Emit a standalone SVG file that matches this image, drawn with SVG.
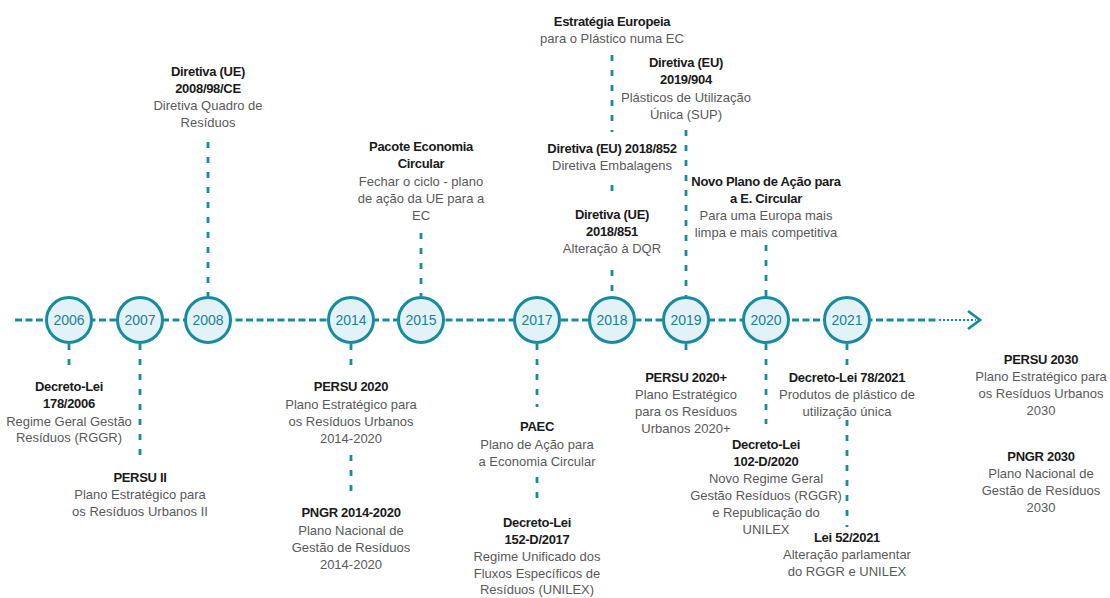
<svg xmlns="http://www.w3.org/2000/svg" width="1110" height="598" viewBox="0 0 1110 598">
<defs>
<style>
.bg{fill:#ffffff}
.yr circle{fill:#e3f2f7;stroke:#168c9e;stroke-width:3}
.yr text{font-family:"Liberation Sans",Arial,sans-serif;font-size:14px;fill:#237f8f;text-anchor:middle}
.tl{fill:none;stroke:#168c9e;stroke-width:2.8;stroke-dasharray:7 3.5}
.dot{fill:none;stroke:#168c9e;stroke-width:2.2;stroke-dasharray:2 2}
.arr{fill:none;stroke:#168c9e;stroke-width:2.8;stroke-linejoin:miter}
.v{fill:none;stroke:#168c9e;stroke-width:2.8;stroke-dasharray:6 9}
.lbl text{font-family:"Liberation Sans",Arial,sans-serif;font-size:13px;text-anchor:middle;fill:#595959}
.lbl .t{font-weight:bold;fill:#1a1a1a;letter-spacing:-0.3px}
</style>
</defs>
<rect class="bg" x="0" y="0" width="1110" height="598"/>

<g id="connectors">
<path class="tl" d="M15 320 H938"/>
<path class="dot" d="M939 320 H976"/>
<path class="arr" d="M968 311 L980 320 L968 329"/>
<path class="v" d="M69 344 V372"/>
<path class="v" d="M140 344 V460"/>
<path class="v" d="M208 142 V296"/>
<path class="v" d="M351 344 V373"/>
<path class="v" d="M351 455 V494"/>
<path class="v" d="M421 233 V296"/>
<path class="v" d="M537 344 V407"/>
<path class="v" d="M537 477 V507"/>
<path class="v" d="M612 55 V132"/>
<path class="v" d="M612 185 V199"/>
<path class="v" d="M612 270 V296"/>
<path class="v" d="M686 130 V296"/>
<path class="v" d="M686 344 V356"/>
<path class="v" d="M766 245 V296"/>
<path class="v" d="M766 344 V424"/>
<path class="v" d="M847 344 V367"/>
<path class="v" d="M847 420 V527"/>
</g>

<g id="y2006" class="yr"><circle cx="69" cy="320" r="22.5"/><text x="69" y="325">2006</text></g>
<g id="y2007" class="yr"><circle cx="140" cy="320" r="22.5"/><text x="140" y="325">2007</text></g>
<g id="y2008" class="yr"><circle cx="208" cy="320" r="22.5"/><text x="208" y="325">2008</text></g>
<g id="y2014" class="yr"><circle cx="351" cy="320" r="22.5"/><text x="351" y="325">2014</text></g>
<g id="y2015" class="yr"><circle cx="421" cy="320" r="22.5"/><text x="421" y="325">2015</text></g>
<g id="y2017" class="yr"><circle cx="537" cy="320" r="22.5"/><text x="537" y="325">2017</text></g>
<g id="y2018" class="yr"><circle cx="612" cy="320" r="22.5"/><text x="612" y="325">2018</text></g>
<g id="y2019" class="yr"><circle cx="686" cy="320" r="22.5"/><text x="686" y="325">2019</text></g>
<g id="y2020" class="yr"><circle cx="766" cy="320" r="22.5"/><text x="766" y="325">2020</text></g>
<g id="y2021" class="yr"><circle cx="847" cy="320" r="22.5"/><text x="847" y="325">2021</text></g>

<g id="n-diretiva-2008" class="lbl">
<text class="t" x="208" y="76">Diretiva (UE)</text>
<text class="t" x="208" y="93">2008/98/CE</text>
<text x="208" y="110">Diretiva Quadro de</text>
<text x="208" y="127">Resíduos</text>
</g>
<g id="n-pacote" class="lbl">
<text class="t" x="421" y="151">Pacote Economia</text>
<text class="t" x="421" y="168">Circular</text>
<text x="421" y="186">Fechar o ciclo - plano</text>
<text x="421" y="203">de ação da UE para a</text>
<text x="421" y="220">EC</text>
</g>
<g id="n-estrategia" class="lbl">
<text class="t" x="612" y="26">Estratégia Europeia</text>
<text x="612" y="43">para o Plástico numa EC</text>
</g>
<g id="n-diretiva-2019" class="lbl">
<text class="t" x="686" y="67">Diretiva (EU)</text>
<text class="t" x="686" y="84">2019/904</text>
<text x="686" y="102">Plásticos de Utilização</text>
<text x="686" y="119">Única (SUP)</text>
</g>
<g id="n-diretiva-852" class="lbl">
<text class="t" x="612" y="153">Diretiva (EU) 2018/852</text>
<text x="612" y="170">Diretiva Embalagens</text>
</g>
<g id="n-diretiva-851" class="lbl">
<text class="t" x="612" y="219">Diretiva (UE)</text>
<text class="t" x="612" y="236">2018/851</text>
<text x="612" y="253">Alteração à DQR</text>
</g>
<g id="n-novo-plano" class="lbl">
<text class="t" x="766" y="186">Novo Plano de Ação para</text>
<text class="t" x="766" y="203">a E. Circular</text>
<text x="766" y="220">Para uma Europa mais</text>
<text x="766" y="237">limpa e mais competitiva</text>
</g>

<g id="n-dl-178" class="lbl">
<text class="t" x="69" y="391">Decreto-Lei</text>
<text class="t" x="69" y="408">178/2006</text>
<text x="69" y="426">Regime Geral Gestão</text>
<text x="69" y="442">Resíduos (RGGR)</text>
</g>
<g id="n-persu-ii" class="lbl">
<text class="t" x="140" y="482">PERSU II</text>
<text x="140" y="499">Plano Estratégico para</text>
<text x="140" y="516">os Resíduos Urbanos II</text>
</g>
<g id="n-persu-2020" class="lbl">
<text class="t" x="351" y="391">PERSU 2020</text>
<text x="351" y="409">Plano Estratégico para</text>
<text x="351" y="426">os Resíduos Urbanos</text>
<text x="351" y="443">2014-2020</text>
</g>
<g id="n-pngr-2020" class="lbl">
<text class="t" x="351" y="517">PNGR 2014-2020</text>
<text x="351" y="535">Plano Nacional de</text>
<text x="351" y="552">Gestão de Resíduos</text>
<text x="351" y="569">2014-2020</text>
</g>
<g id="n-paec" class="lbl">
<text class="t" x="537" y="431">PAEC</text>
<text x="537" y="449">Plano de Ação para</text>
<text x="537" y="466">a Economia Circular</text>
</g>
<g id="n-dl-152" class="lbl">
<text class="t" x="537" y="527">Decreto-Lei</text>
<text class="t" x="537" y="544">152-D/2017</text>
<text x="537" y="561">Regime Unificado dos</text>
<text x="537" y="578">Fluxos Específicos de</text>
<text x="537" y="594">Resíduos (UNILEX)</text>
</g>
<g id="n-persu-2020plus" class="lbl">
<text class="t" x="686" y="382">PERSU 2020+</text>
<text x="686" y="399">Plano Estratégico</text>
<text x="686" y="416">para os Resíduos</text>
<text x="686" y="433">Urbanos 2020+</text>
</g>
<g id="n-dl-102" class="lbl">
<text class="t" x="766" y="449">Decreto-Lei</text>
<text class="t" x="766" y="466">102-D/2020</text>
<text x="766" y="483">Novo Regime Geral</text>
<text x="766" y="500">Gestão Resíduos (RGGR)</text>
<text x="766" y="517">e Republicação do</text>
<text x="766" y="534">UNILEX</text>
</g>
<g id="n-dl-78" class="lbl">
<text class="t" x="847" y="382">Decreto-Lei 78/2021</text>
<text x="847" y="399">Produtos de plástico de</text>
<text x="847" y="416">utilização única</text>
</g>
<g id="n-lei-52" class="lbl">
<text class="t" x="847" y="542">Lei 52/2021</text>
<text x="847" y="559">Alteração parlamentar</text>
<text x="847" y="576">do RGGR e UNILEX</text>
</g>
<g id="n-persu-2030" class="lbl">
<text class="t" x="1041" y="364">PERSU 2030</text>
<text x="1041" y="381">Plano Estratégico para</text>
<text x="1041" y="398">os Resíduos Urbanos</text>
<text x="1041" y="415">2030</text>
</g>
<g id="n-pngr-2030" class="lbl">
<text class="t" x="1041" y="461">PNGR 2030</text>
<text x="1041" y="478">Plano Nacional de</text>
<text x="1041" y="495">Gestão de Resíduos</text>
<text x="1041" y="512">2030</text>
</g>
</svg>
